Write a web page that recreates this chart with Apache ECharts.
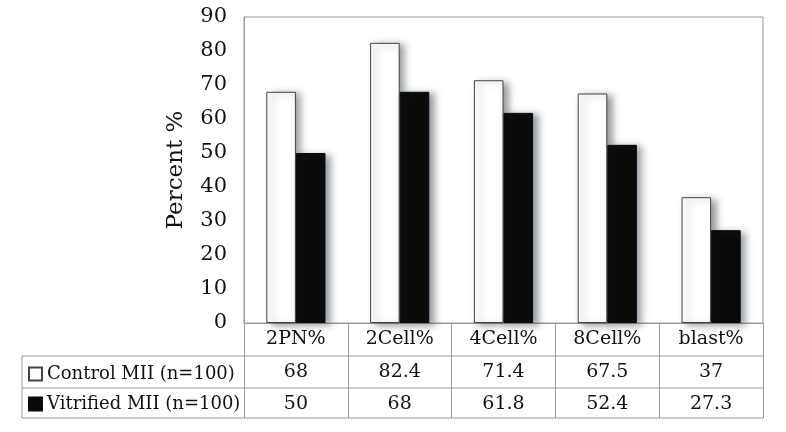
<!DOCTYPE html>
<html>
<head>
<meta charset="utf-8">
<script src="https://cdn.jsdelivr.net/npm/echarts@6/dist/echarts.min.js"></script>
<style>
  html, body { margin: 0; padding: 0; background: #fff; }
  #chart { width: 786px; height: 432px; }
</style>
</head>
<body>
<div id="chart"></div>
<script>
  // data
  var categories = ['2PN%', '2Cell%', '4Cell%', '8Cell%', 'blast%'];
  var controlVals = [68, 82.4, 71.4, 67.5, 37];
  var vitrifiedVals = [50, 68, 61.8, 52.4, 27.3];
  var controlName = 'Control MII (n=100)';
  var vitrifiedName = 'Vitrified MII (n=100)';

  var font = 'DejaVu Serif';
  var lineCol = '#999';
  var textCol = '#111';

  // table layout (px)
  var gridL = 244, gridR = 763, gridT = 17, gridB = 323;
  var row1 = 356, row2 = 388, row3 = 418, tableL = 22;

  var chart = echarts.init(document.getElementById('chart'));

  function tableAxis(idx, offset, vals) {
    return {
      type: 'category',
      data: categories,
      gridIndex: 0,
      position: 'bottom',
      offset: offset,
      axisLine: { show: false },
      axisTick: { show: false },
      axisLabel: {
        margin: 7,
        fontFamily: font,
        fontSize: 19,
        color: textCol,
        formatter: function (v, i) { return String(vals[i]); }
      }
    };
  }

  var shadow = {
    shadowBlur: 7,
    shadowColor: 'rgba(40,60,70,0.5)',
    shadowOffsetX: 5,
    shadowOffsetY: 2
  };

  var option = {
    backgroundColor: '#fff',
    animation: false,
    grid: {
      left: gridL, right: 786 - gridR, top: gridT, bottom: 432 - gridB,
      show: true, borderColor: lineCol, borderWidth: 1
    },
    legend: {
      orient: 'vertical',
      left: tableL + 1,
      top: row1 + 4,
      itemGap: 12,
      itemWidth: 13,
      itemHeight: 13,
      itemTextGap: 3,
      icon: 'rect',
      textStyle: { fontFamily: font, fontSize: 18, color: textCol },
      data: [controlName, vitrifiedName]
    },
    xAxis: [
      {
        type: 'category',
        data: categories,
        axisLine: { lineStyle: { color: lineCol, width: 1 } },
        axisTick: { show: true, length: row3 - gridB, lineStyle: { color: lineCol } },
        axisLabel: { margin: 7, fontFamily: font, fontSize: 19, color: textCol }
      },
      tableAxis(1, row1 - gridB, controlVals),
      tableAxis(2, row2 - gridB, vitrifiedVals)
    ],
    yAxis: {
      type: 'value',
      min: 0, max: 90, interval: 10,
      name: 'Percent %',
      nameLocation: 'middle',
      nameGap: 56,
      nameTextStyle: { fontFamily: font, fontSize: 23, color: textCol },
      axisLine: { show: true, lineStyle: { color: lineCol } },
      axisTick: { show: false },
      splitLine: { show: false },
      axisLabel: { margin: 17, fontFamily: font, fontSize: 21, color: textCol }
    },
    series: [
      {
        name: controlName,
        type: 'bar',
        data: controlVals,
        barWidth: '28.5%',
        barGap: '0%',
        itemStyle: Object.assign({ color: '#fff', borderColor: '#444', borderWidth: 1 }, shadow)
      },
      {
        name: vitrifiedName,
        type: 'bar',
        data: vitrifiedVals,
        barWidth: '28.5%',
        itemStyle: Object.assign({ color: '#0a0a0a', borderColor: '#0a0a0a', borderWidth: 1 }, shadow)
      }
    ],
    graphic: [
      { type: 'line', shape: { x1: tableL, y1: row1, x2: gridR, y2: row1 }, style: { stroke: lineCol, lineWidth: 1 } },
      { type: 'line', shape: { x1: tableL, y1: row2, x2: gridR, y2: row2 }, style: { stroke: lineCol, lineWidth: 1 } },
      { type: 'line', shape: { x1: tableL, y1: row3, x2: gridR, y2: row3 }, style: { stroke: lineCol, lineWidth: 1 } },
      { type: 'line', shape: { x1: tableL, y1: row1, x2: tableL, y2: row3 }, style: { stroke: lineCol, lineWidth: 1 } }
    ]
  };

  chart.setOption(option);
</script>
</body>
</html>
